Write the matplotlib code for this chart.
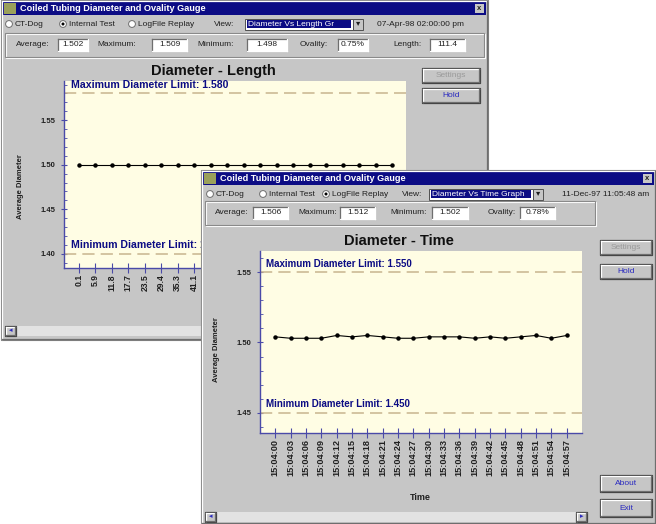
import matplotlib
matplotlib.use("Agg")
import matplotlib.pyplot as plt
from matplotlib.patches import Rectangle, Circle
from matplotlib.ticker import MultipleLocator

W, H = 656, 524

# ---- data ----
back_labels = ["0.1", "5.9", "11.8", "17.7", "23.5", "29.4", "35.3", "41.1", "47.0", "52.9",
               "58.7", "64.6", "70.5", "76.3", "82.2", "88.1", "93.9", "99.8", "105.7", "111.4"]
back_values = [1.500, 1.500, 1.500, 1.500, 1.500, 1.500, 1.500, 1.500, 1.500, 1.500,
               1.500, 1.500, 1.500, 1.500, 1.500, 1.500, 1.500, 1.500, 1.500, 1.500]
back_max_limit = 1.580
back_min_limit = 1.400

front_labels = ["15:04:00", "15:04:03", "15:04:06", "15:04:09", "15:04:12", "15:04:15",
                "15:04:18", "15:04:21", "15:04:24", "15:04:27", "15:04:30", "15:04:33",
                "15:04:36", "15:04:39", "15:04:42", "15:04:45", "15:04:48", "15:04:51",
                "15:04:54", "15:04:57"]
front_values = [1.504, 1.503, 1.503, 1.503, 1.505, 1.504, 1.505, 1.504, 1.503, 1.503,
                1.504, 1.504, 1.504, 1.503, 1.504, 1.503, 1.504, 1.505, 1.503, 1.505]
front_max_limit = 1.550
front_min_limit = 1.450

back_stats = [("Average:", "1.502"), ("Maximum:", "1.509"), ("Minimum:", "1.498"),
              ("Ovality:", "0.75%"), ("Length:", "111.4")]
front_stats = [("Average:", "1.506"), ("Maximum:", "1.512"), ("Minimum:", "1.502"),
               ("Ovality:", "0.78%")]

GRAY = "#c6c6c6"
NAVY = "#0c0c84"
PLOTBG = "#fffde4"
AXBLUE = "#4a4aa8"
LIMIT = "#c8b48e"

plt.rcParams["font.family"] = ["Liberation Sans", "DejaVu Sans"]

SMALL = 6.0


def fig_box(x, y, w, h):
    return [x / W, 1 - (y + h) / H, w / W, h / H]


def layer(fig, z):
    ax = fig.add_axes([0, 0, 1, 1], zorder=z)
    ax.set_xlim(0, W)
    ax.set_ylim(H, 0)
    ax.axis("off")
    ax.patch.set_visible(False)
    return ax


def rect(ax, x0, y0, x1, y1, fc, ec="none", lw=0.8):
    ax.add_patch(Rectangle((x0, y0), x1 - x0, y1 - y0, facecolor=fc, edgecolor=ec, linewidth=lw))


def bevel(ax, x0, y0, x1, y1, raised=True):
    light, dark = ("white", "#6e6e6e") if raised else ("#6e6e6e", "white")
    ax.plot([x0, x1], [y0, y0], color=light, lw=0.9)
    ax.plot([x0, x0], [y0, y1], color=light, lw=0.9)
    ax.plot([x0, x1], [y1, y1], color=dark, lw=0.9)
    ax.plot([x1, x1], [y0, y1], color=dark, lw=0.9)


def etched(ax, x0, y0, x1, y1):
    rect(ax, x0 + 1, y0 + 1, x1 + 1, y1 + 1, "none", ec="white", lw=0.8)
    rect(ax, x0, y0, x1, y1, "none", ec="#8a8a8a", lw=0.8)


def label(ax, x, y, s, size=SMALL, color="#202020", **kw):
    ax.text(x, y, s, fontsize=size, color=color, va="center", **kw)


def textbox(ax, x0, y0, x1, y1, s):
    rect(ax, x0, y0, x1, y1, "white")
    bevel(ax, x0, y0, x1, y1, raised=False)
    label(ax, (x0 + x1) / 2, (y0 + y1) / 2, s, ha="center")


def button(ax, x0, y0, x1, y1, s, enabled=True, size=SMALL):
    rect(ax, x0, y0, x1, y1, GRAY, ec="#404040", lw=0.9)
    bevel(ax, x0 + 1, y0 + 1, x1 - 1, y1 - 1)
    label(ax, (x0 + x1) / 2, (y0 + y1) / 2, s, ha="center", size=size,
          color="#2a2ac0" if enabled else "#9a9a9a")


def radio(ax, x, y, s, checked):
    ax.add_patch(Circle((x, y), 3.4, facecolor="white", edgecolor="#6e6e6e", lw=0.7))
    if checked:
        ax.add_patch(Circle((x, y), 1.5, facecolor="black"))
    label(ax, x + 6, y, s)


def window(ax, x0, y0, x1, y1, view, date, stats, box_x, stat_y, frame_x, radio_xs, view_x,
           dd, date_x, buttons, scroll):
    rect(ax, x0, y0, x1, y1, GRAY, ec="#808080")
    bevel(ax, x0 + 1, y0 + 1, x1 - 1, y1 - 1)
    # title bar
    rect(ax, x0 + 2, y0 + 2, x1 - 2, y0 + 15, NAVY)
    rect(ax, x0 + 3, y0 + 3, x0 + 15, y0 + 14, "#9aa05a")
    label(ax, x0 + 19, y0 + 8.5, "Coiled Tubing Diameter and Ovality Gauge", size=6.6,
          color="white", fontweight="bold")
    rect(ax, x1 - 13, y0 + 4, x1 - 4, y0 + 13, GRAY)
    label(ax, x1 - 8.5, y0 + 8.5, "x", size=5.5, ha="center", fontweight="bold")
    # radio row
    ry = y0 + 24
    for (rx, s, chk) in radio_xs:
        radio(ax, rx, ry, s, chk)
    label(ax, view_x, ry, "View:")
    rect(ax, dd[0], ry - 5.5, dd[1], ry + 5.5, "white", ec="#505050", lw=0.7)
    rect(ax, dd[0] + 2, ry - 4, dd[1] - 2, ry + 4, NAVY)
    label(ax, dd[0] + 3, ry, view, size=6.0, color="white")
    rect(ax, dd[1], ry - 5.5, dd[1] + 10, ry + 5.5, GRAY, ec="#505050", lw=0.7)
    label(ax, dd[1] + 5, ry, "\u25be", size=6, ha="center")
    label(ax, date_x, ry, date, size=6.0)
    # stats row
    sy0, sy1 = y0 + stat_y, y0 + stat_y + 12
    etched(ax, frame_x[0], sy0 - 6, frame_x[1], sy1 + 6)
    for (name, val), (tx, bx0, bx1) in zip(stats, box_x):
        label(ax, tx, (sy0 + sy1) / 2, name)
        textbox(ax, bx0, sy0, bx1, sy1, val)
    for (bx0, by0, bx1, by1, s, en) in buttons:
        button(ax, bx0, by0, bx1, by1, s, en)
    # horizontal scroll bar
    sx0, sx1, sy = scroll
    rect(ax, sx0, sy, sx1, sy + 10, "#e2e2e2")
    button(ax, sx0, sy, sx0 + 11, sy + 10, "\u25c2", size=5)
    button(ax, sx1 - 11, sy, sx1, sy + 10, "\u25b8", size=5)


def chart(fig, box, z, labels, values, ylim, xlim, max_lim, min_lim, label_x, lim_size,
          tick_size):
    ax = fig.add_axes(fig_box(*box), zorder=z)
    ax.set_facecolor(PLOTBG)
    xs = list(range(len(values)))
    ax.plot(xs, values, color="black", lw=0.8, marker="o", ms=2.2)
    for lim, name in ((max_lim, "Maximum"), (min_lim, "Minimum")):
        ax.axhline(lim, color=LIMIT, lw=1.1, ls=(0, (8, 4)))
        ax.annotate("%s Diameter Limit: %.3f" % (name, lim), (label_x, lim),
                    xycoords=ax.get_yaxis_transform(), xytext=(0, 2.5),
                    textcoords="offset points", fontsize=lim_size, color=NAVY,
                    fontweight="bold", va="bottom")
    ax.set_xlim(*xlim)
    ax.set_ylim(*ylim)
    ax.set_xticks(xs)
    ax.set_xticklabels(labels, rotation=90, fontsize=tick_size, fontweight="bold")
    ax.yaxis.set_major_locator(MultipleLocator(0.05))
    ax.yaxis.set_minor_locator(MultipleLocator(0.01))
    ax.yaxis.set_major_formatter(plt.FormatStrFormatter("%.2f"))
    ax.tick_params(axis="y", labelsize=5.5, colors=AXBLUE, labelcolor="#202020",
                   direction="inout", length=5, width=0.8)
    ax.tick_params(axis="y", which="minor", direction="in", length=2, colors=AXBLUE)
    ax.tick_params(axis="x", direction="inout", length=7, width=0.8, colors=AXBLUE,
                   labelcolor="#202020", pad=1)
    for lab in ax.get_yticklabels():
        lab.set_fontweight("bold")
    for side in ("top", "right"):
        ax.spines[side].set_visible(False)
    for side in ("left", "bottom"):
        ax.spines[side].set_color(AXBLUE)
        ax.spines[side].set_linewidth(1.0)
    return ax


fig = plt.figure(figsize=(W / 100, H / 100), dpi=100)
fig.patch.set_facecolor("white")

# back window (Diameter vs Length)
back = layer(fig, 0)
window(back, 1, 0, 488, 340, "Diameter Vs Length Gr", "07-Apr-98 02:00:00 pm",
       back_stats,
       [(16, 58, 88), (97, 152, 187), (197, 247, 287), (300, 338, 368), (393, 430, 465)],
       39, (5, 484),
       [(9, "CT-Dog", False), (63, "Internal Test", True), (132, "LogFile Replay", False)],
       214, (245, 353), 377,
       [(422, 68, 480, 83, "Settings", False), (422, 88, 480, 103, "Hold", True)],
       (5, 485, 326))
ax_back = chart(fig, (64, 81, 342, 187), 1, back_labels, back_values, (1.384, 1.594),
                (-0.9, 19.85), back_max_limit, back_min_limit, 0.02, 7.6, 6.2)
back.text(213, 71, "Diameter - Length", fontsize=10.5, fontweight="bold", ha="center",
          va="center", color="#101010")
back.text(20, 187, "Average Diameter", fontsize=5.5, fontweight="bold", rotation=90,
          ha="center", va="center", color="#202020")
# tick labels of the back chart that sit under the front window are not shown
front_left = 201
for i, t in enumerate(ax_back.get_xticklabels()):
    if ax_back.transData.transform((i, 1.5))[0] > front_left - 4:
        t.set_visible(False)

# front window (Diameter vs Time)
front = layer(fig, 2)
window(front, front_left, 170, 656, 524, "Diameter Vs Time Graph", "11-Dec-97 11:05:48 am",
       front_stats,
       [(215, 253, 288), (298, 340, 375), (390, 432, 468), (488, 520, 555)],
       37, (205, 595),
       [(210, "CT-Dog", False), (263, "Internal Test", False), (326, "LogFile Replay", True)],
       402, (429, 533), 562,
       [(600, 240, 652, 255, "Settings", False), (600, 264, 652, 279, "Hold", True),
        (600, 475, 652, 492, "About", True), (600, 499, 652, 517, "Exit", True)],
       (205, 587, 512))
chart(fig, (260, 251, 322, 182), 3, front_labels, front_values, (1.4357, 1.565), (-1.0, 20.0),
      front_max_limit, front_min_limit, 0.02, 7.0, 6.6)
front.text(399, 241, "Diameter - Time", fontsize=10.5, fontweight="bold", ha="center",
           va="center", color="#101010")
front.text(217, 350, "Average Diameter", fontsize=5.5, fontweight="bold", rotation=90,
           ha="center", va="center", color="#202020")
front.text(420, 498, "Time", fontsize=6.5, fontweight="bold", ha="center", va="center",
           color="#202020")

fig.savefig("out.png", dpi=100, facecolor="white")
